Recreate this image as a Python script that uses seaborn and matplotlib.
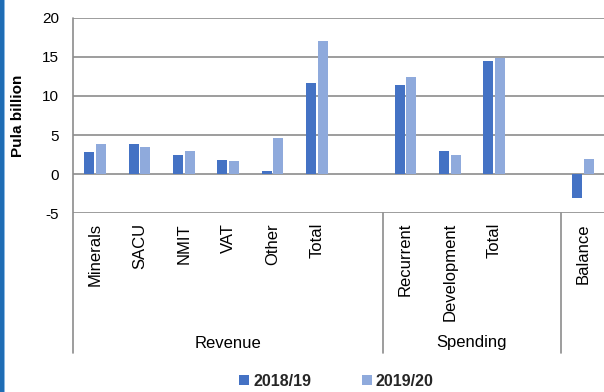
import matplotlib
matplotlib.use("Agg")
import matplotlib.pyplot as plt
from matplotlib.patches import Rectangle
from matplotlib.lines import Line2D
import numpy as np
import pandas as pd
import seaborn as sns

# Budget components, Pula billion
categories = ["Minerals", "SACU", "NMIT", "VAT", "Other", "Total",
              "Recurrent", "Development", "Total", "Balance"]
groups = ["Revenue"] * 6 + ["Spending"] * 3 + ["Balance"]
v2018_19 = [2.8, 3.9, 2.5, 1.8, 0.4, 11.6, 11.4, 3.0, 14.5, -3.0]
v2019_20 = [3.9, 3.5, 3.0, 1.7, 4.6, 17.0, 12.4, 2.4, 14.9, 2.0]
years = ["2018/19", "2019/20"]
group_labels = ["Revenue", "Spending"]
yticks = [-5, 0, 5, 10, 15, 20]

colors = {"2018/19": "#4472C4", "2019/20": "#8FAADC"}
grid_gray = "#8c8c8c"

sns.set_theme(style="white")
plt.rcParams["font.family"] = ["Liberation Sans", "DejaVu Sans"]

# one slot per category, with an empty slot after each group
keys = [f"{g}|{c}" for g, c in zip(groups, categories)]
order = keys[:6] + ["_gap1"] + keys[6:9] + ["_gap2"] + keys[9:]
tick_text = [k.split("|")[1] if "|" in k else "" for k in order]

df = pd.DataFrame({
    "slot": keys * 2,
    "year": [years[0]] * len(keys) + [years[1]] * len(keys),
    "value": v2018_19 + v2019_20,
})

W, H = 604, 392
fig = plt.figure(figsize=(W / 100, H / 100), dpi=100)
ax_left, ax_right, ax_top, ax_bot = 73, 605, 17.7, 213.3
ax = fig.add_axes([ax_left / W, 1 - ax_bot / H,
                   (ax_right - ax_left) / W, (ax_bot - ax_top) / H])

sns.barplot(data=df, x="slot", y="value", hue="year", order=order,
            hue_order=years, palette=colors, saturation=1, width=0.52,
            gap=0.13, ax=ax, edgecolor="none", linewidth=0, errorbar=None)

ax.set_xlim(-0.5, len(order) - 0.5)
ax.set_ylim(-5, 20)
ax.set_yticks(yticks)
ax.set_yticklabels([str(t) for t in yticks], fontsize=11, color="#000000")
ax.yaxis.grid(True, color=grid_gray, linewidth=1.2)
ax.xaxis.grid(False)
ax.set_axisbelow(True)
for s in ax.spines.values():
    s.set_visible(False)
ax.tick_params(axis="y", length=0, pad=10)
ax.tick_params(axis="x", length=0, pad=7)
ax.set_xticks(range(len(order)))
ax.set_xticklabels(tick_text, rotation=90, fontsize=12, color="#000000")
ax.set_xlabel("")
ax.set_ylabel("")

# left spine and group separators running through the label area
trans = ax.get_xaxis_transform()
sep_bottom = (ax_bot - 353) / (ax_bot - ax_top)
for xs in [-0.5, 6.5, 10.5]:
    top = 1.0 if xs == -0.5 else 0.0
    ax.add_line(Line2D([xs, xs], [sep_bottom, top], transform=trans,
                       color=grid_gray, linewidth=1.2, clip_on=False))

grp_y = (ax_bot - 343) / (ax_bot - ax_top)
for label, xc in zip(group_labels, [3.0, 8.5]):
    ax.text(xc, grp_y, label, transform=trans, ha="center", va="center",
            fontsize=12, color="#000000")

fig.text(18 / W, 1 - 115.5 / H, "Pula billion", rotation=90, ha="center",
         va="center", fontsize=11, fontweight="bold", color="#000000")

handles, labels = ax.get_legend_handles_labels()
ax.get_legend().remove()
fig.legend(handles, labels, loc="center", bbox_to_anchor=(336.5 / W, 1 - 381 / H),
           ncol=2, frameon=False, prop={"weight": "bold", "size": 11.5},
           handlelength=0.6, handleheight=0.6, handletextpad=0.25,
           columnspacing=3.2, borderaxespad=0)

# blue frame edge at the left
fig.patches.append(Rectangle((0, 0), 4 / W, 1, transform=fig.transFigure,
                             facecolor="#1f6db5", edgecolor="none"))
fig.patches.append(Rectangle((4 / W, 0), 1 / W, 1, transform=fig.transFigure,
                             facecolor="#8ab8e3", edgecolor="none"))

fig.savefig("out.png", dpi=100, facecolor="white")
